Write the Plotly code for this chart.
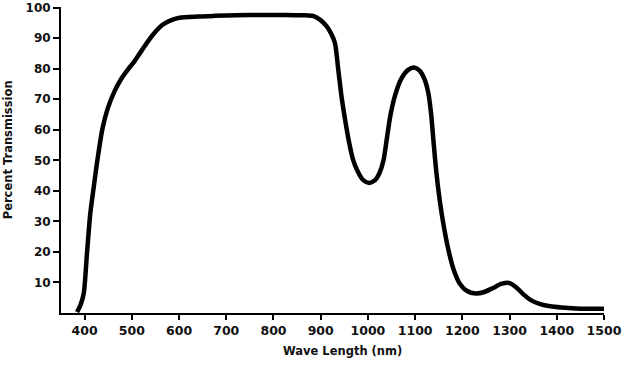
import plotly.graph_objects as go

# Wavelength (nm) and percent transmission
wavelength = [384, 391, 398, 405, 412, 420, 427, 438, 449, 463, 478, 492, 505, 521, 545, 565, 585, 601, 640, 675, 720, 778, 820, 862, 885, 899, 912, 922, 930, 937, 944, 952, 960, 968, 978, 990, 1003, 1015, 1025, 1033, 1040, 1048, 1058, 1070, 1085, 1098, 1110, 1120, 1128, 1134, 1139, 1145, 1152, 1160, 1170, 1182, 1195, 1210, 1228, 1245, 1265, 1284, 1300, 1315, 1330, 1345, 1365, 1386, 1410, 1440, 1470, 1500]
transmission = [0.3, 2.5, 6.3, 19.5, 32.5, 42, 50, 60.5, 67, 72.5, 76.8, 79.8, 82.3, 86, 91.2, 94.4, 96.0, 96.7, 97.1, 97.3, 97.5, 97.6, 97.6, 97.5, 97.2, 96.0, 94, 91.5, 88.5, 80, 71, 63, 56, 50.5, 46.5, 43.5, 42.6, 43.5, 46, 50, 57, 65, 71.5, 76.5, 79.6, 80.4, 79.3, 76.5, 72, 65, 56, 46, 37, 29, 21, 14, 9.5, 7.2, 6.4, 6.8, 8.2, 9.6, 9.8, 8.3, 6, 4.2, 2.9, 2.2, 1.8, 1.5, 1.4, 1.4]

x_ticks = [400, 500, 600, 700, 800, 900, 1000, 1100, 1200, 1300, 1400, 1500]
y_ticks = [10, 20, 30, 40, 50, 60, 70, 80, 90, 100]

font_family = "'DejaVu Sans', sans-serif"

fig = go.Figure()
fig.add_trace(go.Scatter(
    x=wavelength, y=transmission, mode="lines",
    line=dict(color="black", width=4.5, shape="spline", smoothing=0.8),
    showlegend=False, hoverinfo="skip", cliponaxis=False,
))

fig.update_layout(
    width=640, height=371,
    margin=dict(l=61, r=36, t=7, b=58, autoexpand=False),
    paper_bgcolor="white", plot_bgcolor="white",
    font=dict(family=font_family, color="#111111"),
    annotations=[
        dict(text="<b>Wave Length (nm)</b>", xref="paper", yref="paper",
             x=(342 - 61) / (640 - 61 - 36), y=-(351 - 312.7) / (371 - 7 - 58),
             xanchor="center", yanchor="middle",
             showarrow=False, font=dict(size=11.5, family=font_family, color="#111111")),
        dict(text="<b>Percent Transmission</b>", xref="paper", yref="paper",
             x=-(61 - 8) / (640 - 61 - 36), y=(312.7 - 150) / (371 - 7 - 58),
             xanchor="center", yanchor="middle",
             textangle=-90, showarrow=False,
             font=dict(size=11.5, family=font_family, color="#111111")),
    ],
)
fig.update_xaxes(
    range=[350, 1500], tickvals=x_ticks, ticktext=[str(v) for v in x_ticks],
    showgrid=False, zeroline=False, automargin=False,
    showline=True, linecolor="black", linewidth=2,
    ticks="outside", ticklen=5, tickwidth=1.5, tickcolor="black",
    ticklabelstandoff=0,
    tickfont=dict(size=12.5, weight="bold", family=font_family),
)
fig.update_yaxes(
    range=[0, 100.2], tickvals=y_ticks, ticktext=[str(v) for v in y_ticks],
    showgrid=False, zeroline=False, automargin=False,
    showline=True, linecolor="black", linewidth=2,
    ticks="outside", ticklen=6, tickwidth=1.5, tickcolor="black",
    tickfont=dict(size=12, weight="bold", family=font_family),
)

fig.write_html("out.html", config={"displayModeBar": False},
               post_script="document.body.style.margin='0';")
